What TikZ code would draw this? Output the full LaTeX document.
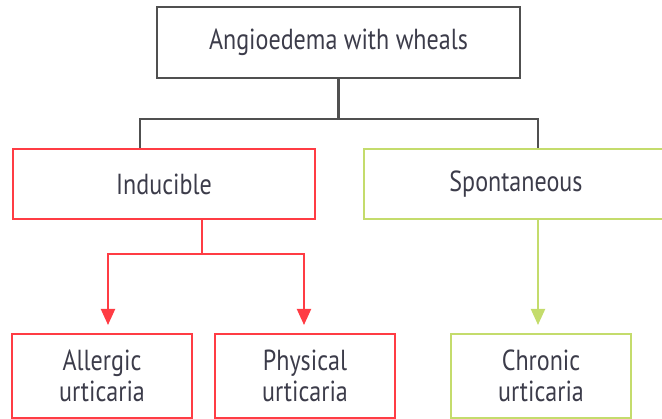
\documentclass[tikz,border=0pt]{standalone}
\usepackage{fontspec}
\setmainfont[FakeStretch=0.83]{PT Sans}
\usetikzlibrary{arrows.meta}
\definecolor{txt}{HTML}{3C3C4A}
\definecolor{linegray}{HTML}{505050}
\definecolor{redc}{HTML}{FF3C44}
\definecolor{greenc}{HTML}{C4DC6C}
\begin{document}
\begin{tikzpicture}[x=1pt,y=-1pt,
  box/.style={draw, line width=2pt, inner sep=0pt, align=center,
    text=txt, font=\fontsize{29}{31}\selectfont},
  topbox/.style={box, draw=linegray, minimum width=363pt, minimum height=71pt},
  redbox/.style={box, draw=redc},
  greenbox/.style={box, draw=greenc},
  midbox/.style={minimum width=302pt, minimum height=70pt},
  leafbox/.style={minimum width=180pt, minimum height=84pt},
  trunk/.style={draw=linegray, line width=2.4pt},
  redarrow/.style={draw=redc, line width=2pt, -{Triangle[length=16pt,width=14pt]}},
  redline/.style={draw=redc, line width=2pt},
  greenarrow/.style={draw=greenc, line width=2pt, -{Triangle[length=16pt,width=14pt]}}
]
\useasboundingbox (0,0) rectangle (662,419);
\clip (0,0) rectangle (662,419);

% boxes
\node[topbox] (top) at (338.5,42.5) {Angioedema with wheals};
\node[redbox, midbox] (ind) at (164,184) {Inducible};
\node[greenbox, midbox, minimum width=304pt] (spon) at (516,184) {Spontaneous};
\node[redbox, leafbox] (all) at (102,376) {Allergic\\urticaria};
\node[redbox, leafbox] (phy) at (305,376) {Physical\\urticaria};
\node[greenbox, leafbox] (chr) at (541,376) {Chronic\\urticaria};

% top-level branching
\draw[trunk] (top.south) -- ++(0,40) coordinate (hub);
\draw[trunk] (hub) -| ([xshift=-24pt]ind.north);
\draw[trunk] (hub) -| ([xshift=22pt]spon.north);

% inducible branches
\draw[redline] ([xshift=38pt]ind.south) -- ++(0,34) coordinate (rhub);
\draw[redarrow] (rhub) -| ([xshift=6pt,yshift=8pt]all.north);
\draw[redarrow] (rhub) -| ([xshift=-1pt,yshift=8pt]phy.north);

% spontaneous branch
\draw[greenarrow] ([xshift=22pt]spon.south) -- ([xshift=-3pt,yshift=8pt]chr.north);
\end{tikzpicture}
\end{document}
